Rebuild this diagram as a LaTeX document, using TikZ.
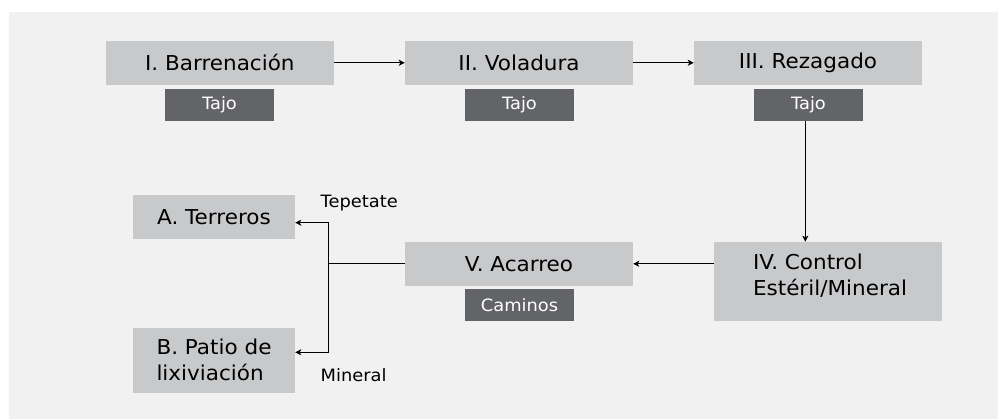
\documentclass[tikz,border=0pt]{standalone}
\usepackage{fontspec}
\setmainfont{DejaVu Sans}[FakeStretch=1.05]
\usetikzlibrary{arrows.meta}
\definecolor{panelbg}{HTML}{F1F1F1}
\definecolor{boxgray}{HTML}{C8C9CB}
\definecolor{tagdark}{HTML}{636467}
\tikzset{
  x=1pt, y=-1pt,
  stagebox/.style={rectangle, fill=boxgray, inner sep=0pt, minimum width=228pt, minimum height=44pt,
    font=\fontsize{20.5}{26}\selectfont, text=black},
  sidebox/.style={rectangle, fill=boxgray, inner sep=0pt, minimum width=162pt,
    font=\fontsize{20.5}{26}\selectfont, text=black, align=left},
  tagbox/.style={rectangle, fill=tagdark, inner sep=0pt, minimum width=109pt, minimum height=31.7pt,
    font=\fontsize{17}{20}\selectfont, text=white},
  lbl/.style={font=\fontsize{17}{20}\selectfont, text=black, inner sep=0pt, anchor=west},
  conn/.style={line width=1.1pt, draw=black},
  arr/.style={conn, -{Stealth[length=6pt,width=6pt,inset=1.5pt]}}
}
\begin{document}
\begin{tikzpicture}
\path[use as bounding box, fill=white] (0,0) rectangle (998,419);
\fill[panelbg] (9,12) rectangle (998,419);

% top row
\node[stagebox] (s1) at (219.8,62.8) {I. Barrenación};
\node[tagbox] (t1) at (219.5,104.8) {Tajo};
\node[stagebox] (s2) at (519,62.8) {II. Voladura};
\node[tagbox] (t2) at (519.5,104.8) {Tajo};
\node[stagebox] (s3) at (808,62.8) {III. Rezagado};
\node[tagbox] (t3) at (808.5,104.8) {Tajo};

% IV
\node[rectangle, fill=boxgray, inner sep=0pt, minimum width=228pt, minimum height=78.7pt] (s4) at (828,281.3) {};
\node[font=\fontsize{20.5}{26}\selectfont, align=left, inner sep=0pt] (s4txt) at (830,275.5) {IV. Control\\Estéril/Mineral};

% V
\node[stagebox] (s5) at (519,263.8) {V. Acarreo};
\node[tagbox] (t5) at (519.5,304.8) {Caminos};

% A, B
\node[sidebox, minimum height=43.7pt] (a) at (214,216.8) {A. Terreros};
\node[sidebox, minimum height=64.7pt] (b) at (214,360.3) {B. Patio de\\lixiviación};

% labels
\node[lbl] (tep) at (320.5,203) {Tepetate};
\node[lbl] (min) at (320.5,375) {Mineral};

% connectors
\draw[arr] (s1) -- (s2);
\draw[arr] (s2) -- (s3);
\draw[arr] (t3.south -| 805.3,0) -- (s4.north -| 805.3,0);
\draw[arr] (s4.west |- s5.east) -- (s5.east);

\coordinate (j) at (328.3,263.8);
\coordinate (ja) at (328.3,222.7);
\coordinate (jb) at (328.3,352.3);
\draw[conn] (s5.west) -- (j);
\draw[arr] (j) -- (ja) -- (ja -| a.east);
\draw[arr] (j) -- (jb) -- (jb -| b.east);
\end{tikzpicture}
\end{document}
